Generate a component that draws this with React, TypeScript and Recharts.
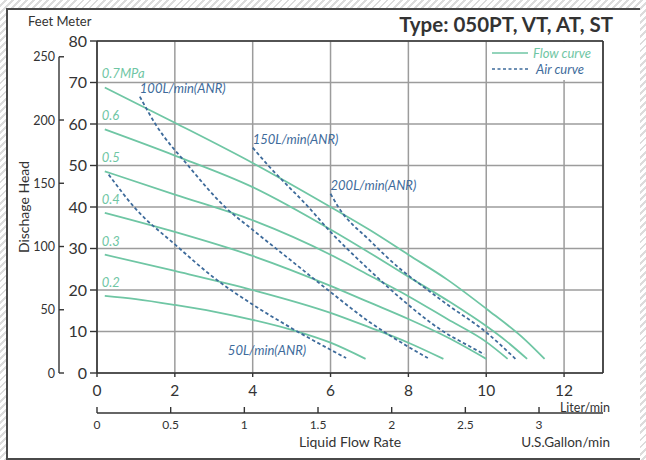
import React from "react";
import {
  CartesianGrid,
  Legend,
  Line,
  LineChart,
  ReferenceLine,
  XAxis,
  YAxis,
} from "recharts";

// flow curves (Liter/min, meter) per air pressure
const flow07 = [[0.2, 68.8], [2, 60.3], [4, 50.6], [6, 40], [7, 34.5], [8, 28.5], [9, 22.5], [10, 15.5], [11, 8], [11.5, 3.4]];
const flow06 = [[0.2, 58.7], [2, 52.4], [4, 44.8], [6, 34.6], [7, 29], [8, 23.2], [9, 17.5], [10, 11.3], [10.5, 7.8], [11.05, 3.4]];
const flow05 = [[0.2, 48.6], [2, 43], [4, 36.8], [6, 28.5], [7, 23.5], [8, 18.5], [9, 13], [10, 7.5], [10.55, 3.4]];
const flow04 = [[0.2, 38.6], [2, 34], [4, 28.2], [6, 21], [7, 17], [8, 13], [9, 8.6], [10, 3.4]];
const flow03 = [[0.2, 28.5], [2, 24.6], [4, 20], [6, 14.5], [7, 11], [8, 7.3], [8.9, 3.4]];
const flow02 = [[0.2, 18.6], [1, 17.8], [2, 16.4], [3, 14.8], [4, 12.8], [5, 10.4], [6, 7.3], [6.9, 3.4]];

// air consumption curves
const air50 = [[0.3, 47.8], [1, 39.5], [2, 31], [3, 23], [4, 16.5], [5, 10.8], [6, 5.6], [6.4, 3.6]];
const air100 = [[1.1, 66.6], [1.5, 60], [2.34, 50], [3.29, 40], [4, 34.5], [5, 27], [6, 19.5], [7, 12.3], [8, 6.3], [8.5, 3.6]];
const air150 = [[4, 54.3], [4.4, 50], [5.43, 40], [6, 34], [6.42, 30], [7, 24.8], [7.8, 18], [8.9, 10], [9.5, 6.8], [9.95, 4.5]];
const air200 = [[6, 43.2], [6.2, 40], [7, 32], [7.8, 25], [8.5, 20], [9, 16.5], [10, 9.8], [10.75, 3.4]];

const flowSeries = [
  { name: "0.7MPa", pts: flow07 },
  { name: "0.6", pts: flow06 },
  { name: "0.5", pts: flow05 },
  { name: "0.4", pts: flow04 },
  { name: "0.3", pts: flow03 },
  { name: "0.2", pts: flow02 },
];
const airSeries = [
  { name: "50L/min(ANR)", pts: air50, atEnd: true },
  { name: "100L/min(ANR)", pts: air100, atEnd: false },
  { name: "150L/min(ANR)", pts: air150, atEnd: false },
  { name: "200L/min(ANR)", pts: air200, atEnd: false },
];

const literTicks = [0, 2, 4, 6, 8, 10, 12];
const meterTicks = [0, 10, 20, 30, 40, 50, 60, 70, 80];
const feetTicks = [0, 50, 100, 150, 200, 250];
const gallonTicks = [0, 0.5, 1, 1.5, 2, 2.5, 3];

const X_MAX = 13;
const Y_MAX = 80;
const FT_MAX = Y_MAX * 3.28084;
const GAL_MAX = X_MAX / 3.78541;

const GREEN = "#6fc6a4";
const BLUE = "#3e6b9b";
const DARK = "#333";
const FONT = "Lato, 'Open Sans', sans-serif";

const toData = (pts: number[][]) => pts.map(([x, y]) => ({ x, y }));

// axis ids sort alphabetically: "a_" axes sit next to the plot
const FeetTick = (props: any) => {
  const { x, y, payload, height } = props;
  const h = typeof height === "number" ? height : 332;
  return (
    <g>
      <text x={x - 4} y={y} dy={4.5} textAnchor="end" fontSize={12.5} fill={DARK} fontFamily={FONT}>
        {payload.value}
      </text>
      <line x1={x} x2={x + 5} y1={y} y2={y} stroke={DARK} strokeWidth={1.4} />
      {payload.value === 250 && (
        <line x1={x} x2={x} y1={y} y2={y + (h * 250) / FT_MAX} stroke={DARK} strokeWidth={1.4} />
      )}
    </g>
  );
};

const GallonTick = (props: any) => {
  const { x, y, payload } = props;
  return (
    <g>
      <line x1={x} x2={x} y1={y} y2={y - 6} stroke={DARK} strokeWidth={1.4} />
      <text x={x} y={y + 16} textAnchor="middle" fontSize={12} fill={DARK} fontFamily={FONT}>
        {payload.value}
      </text>
    </g>
  );
};

const LegendBox = () => (
  <div style={{ background: "#fff", width: 112, height: 38, position: "relative", fontFamily: FONT }}>
    <svg width={112} height={38} style={{ position: "absolute", left: 0, top: 0 }}>
      <line x1={2} x2={38} y1={11} y2={11} stroke={GREEN} strokeWidth={1.6} />
      <line x1={2} x2={38} y1={27} y2={27} stroke={BLUE} strokeWidth={1.6} strokeDasharray="3 2.5" />
      <text x={43} y={15.5} fontSize={13} fontStyle="italic" fill={GREEN}>Flow curve</text>
      <text x={46} y={31.5} fontSize={13} fontStyle="italic" fill={BLUE}>Air curve</text>
    </svg>
  </div>
);

export default function App() {
  return (
    <div
      style={{
        position: "absolute",
        left: 0,
        top: 0,
        width: 646,
        height: 460,
        background: "repeating-linear-gradient(135deg, #fff 0px, #fff 3px, #dcdcdc 3px, #dcdcdc 5px)",
        fontFamily: FONT,
      }}
    >
      <div
        style={{
          position: "absolute",
          left: 6,
          top: 8,
          width: 632,
          height: 448,
          background: "#fff",
          border: "2px solid #4a4a4a",
          borderRight: "none",
        }}
      />
      <div style={{ position: "absolute", left: 0, top: 0 }}>
        <LineChart width={646} height={460} margin={{ top: 41, right: 43, bottom: 17, left: 14 }}>
          <CartesianGrid xAxisId="a_l" yAxisId="a_m" stroke="#9c9c9c" strokeWidth={1.5} />
          <XAxis
            xAxisId="a_l"
            type="number"
            dataKey="x"
            domain={[0, X_MAX]}
            ticks={literTicks}
            allowDataOverflow
            height={40}
            tickSize={4}
            tickMargin={8}
            axisLine={{ stroke: DARK, strokeWidth: 1.6 }}
            tickLine={{ stroke: DARK, strokeWidth: 1.4 }}
            tick={{ fontSize: 15.5, fill: DARK, fontFamily: FONT }}
          />
          <XAxis
            xAxisId="b_gal"
            type="number"
            dataKey="x"
            domain={[0, GAL_MAX]}
            ticks={gallonTicks}
            allowDataOverflow
            height={30}
            tickSize={0}
            tickMargin={0}
            axisLine={{ stroke: DARK, strokeWidth: 1.4 }}
            tickLine={false}
            tick={<GallonTick />}
          />
          <YAxis
            yAxisId="a_m"
            type="number"
            domain={[0, Y_MAX]}
            ticks={meterTicks}
            allowDataOverflow
            width={38}
            tickSize={7}
            tickMargin={3}
            axisLine={{ stroke: DARK, strokeWidth: 1.6 }}
            tickLine={{ stroke: DARK, strokeWidth: 1.4 }}
            tick={{ fontSize: 16, fill: DARK, fontFamily: FONT }}
          />
          <YAxis
            yAxisId="b_ft"
            type="number"
            domain={[0, FT_MAX]}
            ticks={feetTicks}
            allowDataOverflow
            width={45}
            tickSize={0}
            tickMargin={0}
            axisLine={false}
            tickLine={false}
            tick={<FeetTick />}
          />
          <ReferenceLine xAxisId="a_l" yAxisId="a_m" y={Y_MAX} stroke={DARK} strokeWidth={1.6} />
          <ReferenceLine xAxisId="a_l" yAxisId="a_m" x={X_MAX} stroke={DARK} strokeWidth={1.6} />
          <Legend
            content={<LegendBox />}
            layout="horizontal"
            verticalAlign="middle"
            align="center"
            wrapperStyle={{ position: "absolute", left: 490, top: 42, width: 112, height: 38 }}
          />
          {flowSeries.map((s) => (
            <Line
              key={s.name}
              xAxisId="a_l"
              yAxisId="a_m"
              data={toData(s.pts)}
              dataKey="y"
              type="monotone"
              stroke={GREEN}
              strokeWidth={1.8}
              dot={false}
              activeDot={false}
              isAnimationActive={false}
              label={(p: any) =>
                p.index === 0 ? (
                  <text key="l" x={p.x - 3} y={p.y - 9} fontSize={13} fontStyle="italic" fill={GREEN} fontFamily={FONT}>
                    {s.name}
                  </text>
                ) : null
              }
            />
          ))}
          {airSeries.map((s) => (
            <Line
              key={s.name}
              xAxisId="a_l"
              yAxisId="a_m"
              data={toData(s.pts)}
              dataKey="y"
              type="monotone"
              stroke={BLUE}
              strokeWidth={1.8}
              strokeDasharray="3.5 2.5"
              dot={false}
              activeDot={false}
              isAnimationActive={false}
              label={(p: any) => {
                const last = s.pts.length - 1;
                if (s.atEnd && p.index === last) {
                  return (
                    <text key="l" x={p.x - 40} y={p.y - 3} textAnchor="end" fontSize={13} fontStyle="italic" fill={BLUE} fontFamily={FONT}>
                      {s.name}
                    </text>
                  );
                }
                if (!s.atEnd && p.index === 0) {
                  return (
                    <text key="l" x={p.x} y={p.y - 4} fontSize={13} fontStyle="italic" fill={BLUE} fontFamily={FONT}>
                      {s.name}
                    </text>
                  );
                }
                return null;
              }}
            />
          ))}
        </LineChart>
      </div>
      <svg width={646} height={460} style={{ position: "absolute", left: 0, top: 0, pointerEvents: "none" }}>
        <text x={28} y={26} fontSize={13} fill={DARK} fontFamily={FONT}>Feet Meter</text>
        <text x={613} y={32} textAnchor="end" fontSize={20.5} fontWeight={700} fill={DARK} fontFamily={FONT}>
          Type: 050PT, VT, AT, ST
        </text>
        <text x={610} y={412} textAnchor="end" fontSize={12.5} fill={DARK} fontFamily={FONT}>Liter/min</text>
        <text x={350} y={447} textAnchor="middle" fontSize={14} fill={DARK} fontFamily={FONT}>Liquid Flow Rate</text>
        <text x={610} y={447} textAnchor="end" fontSize={13.5} fill={DARK} fontFamily={FONT}>U.S.Gallon/min</text>
        <text
          x={0}
          y={0}
          transform="translate(29 207) rotate(-90)"
          textAnchor="middle"
          fontSize={14}
          fill={DARK}
          fontFamily={FONT}
        >
          Dischage Head
        </text>
      </svg>
    </div>
  );
}
